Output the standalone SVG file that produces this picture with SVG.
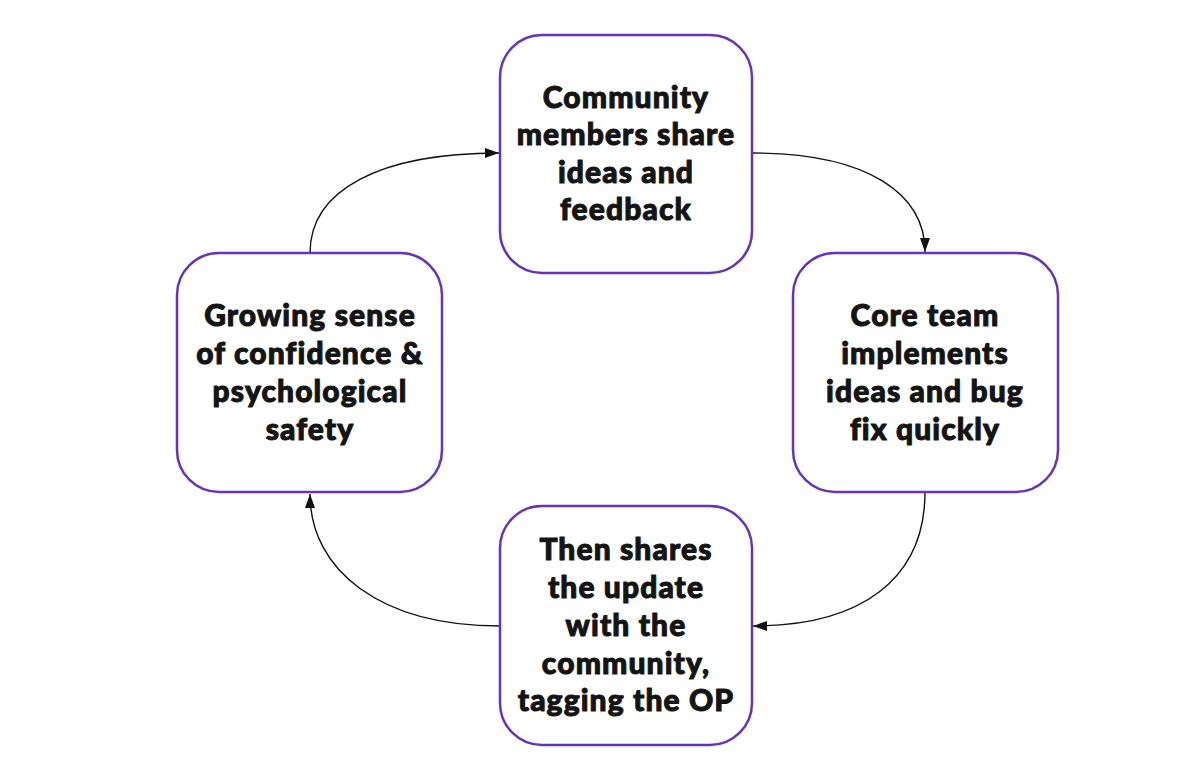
<svg xmlns="http://www.w3.org/2000/svg" width="1200" height="776" viewBox="0 0 1200 776">
<style>
.node rect{fill:#fff;stroke:#6a32b5;stroke-width:2.5}
.node text{font-family:Lato,"Noto Sans",sans-serif;font-weight:900;font-size:30px;letter-spacing:1.1px;fill:#141414;stroke:#141414;stroke-width:1;stroke-linejoin:round;text-anchor:middle}
.conn path{fill:none;stroke:#111;stroke-width:1.4}
</style>
<defs>
<marker id="ah" viewBox="0 0 14 10" refX="14" refY="5" markerWidth="14" markerHeight="10" markerUnits="userSpaceOnUse" orient="auto">
<path d="M0,0 L14,5 L0,10 Z" fill="#111"/>
</marker>
</defs>
<rect width="1200" height="776" fill="#fff"/>
<g class="conn">
<path d="M752,153 C870,153 925,195 925,252" marker-end="url(#ah)"/>
<path d="M925,492 C925,580 860,626 753,626" marker-end="url(#ah)"/>
<path d="M500,626 C380,626 310,570 310,494" marker-end="url(#ah)"/>
<path d="M310,253 C310,190 380,153 499,153" marker-end="url(#ah)"/>
</g>
<g id="n1" class="node">
<rect x="500" y="35" width="252" height="238" rx="42"/>
<text x="626" y="108">Community</text>
<text x="626" y="145">members share</text>
<text x="626" y="183">ideas and</text>
<text x="626" y="220">feedback</text>
</g>
<g id="n2" class="node">
<rect x="793" y="253" width="265" height="239" rx="42"/>
<text x="925" y="326">Core team</text>
<text x="925" y="364">implements</text>
<text x="925" y="402">ideas and bug</text>
<text x="925" y="440">fix quickly</text>
</g>
<g id="n3" class="node">
<rect x="500" y="506" width="252" height="239" rx="42"/>
<text x="626" y="560">Then shares</text>
<text x="626" y="598">the update</text>
<text x="626" y="636">with the</text>
<text x="626" y="674">community,</text>
<text x="626" y="711">tagging the OP</text>
</g>
<g id="n4" class="node">
<rect x="177" y="253" width="265" height="239" rx="42"/>
<text x="310" y="326">Growing sense</text>
<text x="310" y="364">of confidence &amp;</text>
<text x="310" y="402">psychological</text>
<text x="310" y="440">safety</text>
</g>
</svg>
